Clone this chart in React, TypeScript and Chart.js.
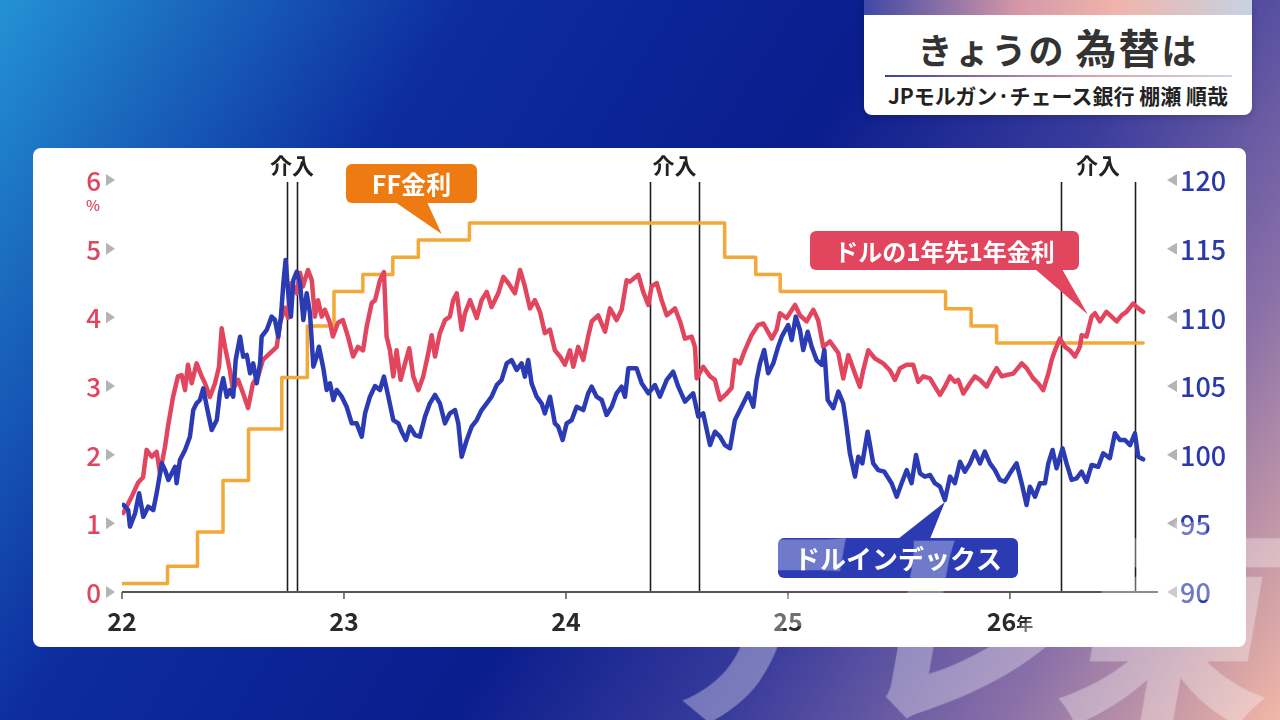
import { useEffect, useRef } from "react"
import { Chart, registerables } from "chart.js"

Chart.register(...registerables)

const FONT = "'Noto Sans CJK JP', 'Noto Sans', sans-serif"

const yearTicks = [2022, 2023, 2024, 2025, 2026]
const yearLabels = ["22", "23", "24", "25", "26"]
const rateTicks = [0, 1, 2, 3, 4, 5, 6]
const indexTicks = [90, 95, 100, 105, 110, 115, 120]

// FF rate (target range midpoint), change dates
const ffDates = [2022.0, 2022.205, 2022.34, 2022.455, 2022.57, 2022.72, 2022.835, 2022.955, 2023.085, 2023.22, 2023.335, 2023.565, 2024.715, 2024.855, 2024.965, 2025.71, 2025.825, 2025.94, 2026.6]
const ffValues = [0.125, 0.375, 0.875, 1.625, 2.375, 3.125, 3.875, 4.375, 4.625, 4.875, 5.125, 5.375, 4.875, 4.625, 4.375, 4.125, 3.875, 3.625, 3.625]

// dollar 1y1y forward rate (%)
const rateDates = [
	2022.006, 2022.044, 2022.072, 2022.095, 2022.111, 2022.134, 2022.156, 2022.171, 2022.194, 2022.207,
	2022.23, 2022.252, 2022.269, 2022.284, 2022.297, 2022.314, 2022.336, 2022.359, 2022.374, 2022.396,
	2022.419, 2022.437, 2022.449, 2022.464, 2022.486, 2022.5, 2022.523, 2022.545, 2022.568, 2022.59,
	2022.613, 2022.635, 2022.667, 2022.697, 2022.712, 2022.734, 2022.748, 2022.764, 2022.787, 2022.802,
	2022.815, 2022.838, 2022.855, 2022.869, 2022.883, 2022.9, 2022.914, 2022.937, 2022.95, 2022.973,
	2022.995, 2023.018, 2023.041, 2023.063, 2023.086, 2023.102, 2023.125, 2023.14, 2023.162, 2023.18,
	2023.192, 2023.207, 2023.222, 2023.237, 2023.255, 2023.275, 2023.294, 2023.312, 2023.335, 2023.357,
	2023.38, 2023.395, 2023.41, 2023.432, 2023.455, 2023.477, 2023.492, 2023.508, 2023.53, 2023.545,
	2023.568, 2023.598, 2023.62, 2023.643, 2023.665, 2023.695, 2023.718, 2023.74, 2023.77, 2023.793,
	2023.815, 2023.838, 2023.86, 2023.883, 2023.905, 2023.928, 2023.95, 2023.973, 2023.995, 2024.018,
	2024.033, 2024.055, 2024.078, 2024.1, 2024.116, 2024.145, 2024.176, 2024.198, 2024.228, 2024.251,
	2024.273, 2024.288, 2024.326, 2024.348, 2024.371, 2024.386, 2024.409, 2024.431, 2024.454, 2024.491,
	2024.514, 2024.536, 2024.566, 2024.581, 2024.589, 2024.618, 2024.649, 2024.671, 2024.694, 2024.724,
	2024.746, 2024.761, 2024.784, 2024.806, 2024.836, 2024.866, 2024.889, 2024.927, 2024.949, 2024.964,
	2024.994, 2025.032, 2025.054, 2025.084, 2025.114, 2025.136, 2025.159, 2025.189, 2025.227, 2025.249,
	2025.272, 2025.302, 2025.324, 2025.339, 2025.362, 2025.392, 2025.429, 2025.459, 2025.482, 2025.505,
	2025.535, 2025.564, 2025.587, 2025.609, 2025.64, 2025.662, 2025.685, 2025.707, 2025.73, 2025.752,
	2025.767, 2025.79, 2025.82, 2025.842, 2025.865, 2025.895, 2025.918, 2025.94, 2025.963, 2025.985,
	2026.015, 2026.053, 2026.075, 2026.105, 2026.127, 2026.15, 2026.173, 2026.188, 2026.203, 2026.225,
	2026.248, 2026.27, 2026.293, 2026.315, 2026.323, 2026.345, 2026.368, 2026.383, 2026.405, 2026.435,
	2026.458, 2026.481, 2026.503, 2026.525, 2026.555, 2026.578, 2026.6,
]
const rateValues = [
	1.15, 1.39, 1.59, 1.67, 2.07, 1.97, 2.04, 1.73, 2.12, 2.41,
	2.84, 3.14, 3.16, 2.94, 3.31, 3.04, 3.33, 3.14, 3.04, 2.84,
	3.04, 3.28, 3.84, 3.57, 3.23, 2.94, 3.09, 2.9, 2.68, 3.04,
	3.14, 3.38, 3.48, 3.57, 3.92, 4.14, 3.99, 4.5, 4.35, 4.65,
	4.45, 4.69, 4.54, 4.01, 4.25, 4.01, 4.11, 3.92, 3.72, 3.92,
	3.96, 3.72, 3.43, 3.57, 3.52, 3.86, 4.21, 4.25, 4.54, 4.66,
	3.72, 3.52, 3.14, 3.52, 3.09, 3.33, 3.55, 3.14, 2.94, 3.14,
	3.48, 3.74, 3.43, 3.77, 3.96, 4.01, 4.25, 4.35, 3.82, 4.06,
	4.25, 3.99, 4.25, 4.37, 4.15, 4.35, 4.59, 4.5, 4.35, 4.69,
	4.45, 4.13, 4.25, 4.08, 3.77, 3.82, 3.52, 3.43, 3.31, 3.52,
	3.28, 3.57, 3.38, 3.72, 3.94, 4.03, 3.79, 4.13, 3.96, 4.11,
	4.54, 4.52, 4.62, 4.37, 4.18, 4.45, 4.5, 4.25, 4.03, 4.13,
	3.94, 3.69, 3.72, 3.57, 3.11, 3.28, 3.14, 3.09, 2.8, 2.89,
	2.97, 3.38, 3.33, 3.52, 3.74, 3.89, 3.91, 3.69, 3.82, 4.06,
	3.99, 4.18, 4.03, 3.94, 4.11, 3.96, 3.57, 3.65, 3.48, 3.11,
	3.45, 3.18, 2.99, 3.23, 3.52, 3.4, 3.33, 3.23, 3.09, 3.26,
	3.31, 3.31, 3.06, 3.14, 3.11, 2.99, 2.87, 2.99, 3.14, 3.06,
	3.09, 2.89, 3.04, 3.14, 3.09, 2.99, 3.14, 3.26, 3.14, 3.16,
	3.18, 3.33, 3.26, 3.11, 3.04, 2.94, 3.18, 3.38, 3.52, 3.69,
	3.57, 3.52, 3.43, 3.57, 3.74, 3.72, 4.01, 4.06, 3.94, 4.08,
	4.01, 3.94, 4.03, 4.08, 4.2, 4.13, 4.08,
]

// dollar index
const dxyDates = [
	2022.006, 2022.028, 2022.036, 2022.059, 2022.077, 2022.096, 2022.118, 2022.141, 2022.156, 2022.179,
	2022.194, 2022.209, 2022.224, 2022.239, 2022.246, 2022.261, 2022.284, 2022.306, 2022.321, 2022.336,
	2022.351, 2022.366, 2022.382, 2022.404, 2022.427, 2022.441, 2022.456, 2022.472, 2022.486, 2022.501,
	2022.512, 2022.532, 2022.546, 2022.562, 2022.577, 2022.591, 2022.607, 2022.622, 2022.629, 2022.652,
	2022.674, 2022.689, 2022.704, 2022.716, 2022.727, 2022.737, 2022.749, 2022.761, 2022.772, 2022.787,
	2022.802, 2022.817, 2022.832, 2022.847, 2022.862, 2022.877, 2022.887, 2022.907, 2022.922, 2022.937,
	2022.952, 2022.967, 2022.99, 2023.012, 2023.035, 2023.057, 2023.08, 2023.095, 2023.117, 2023.14,
	2023.162, 2023.18, 2023.2, 2023.222, 2023.245, 2023.26, 2023.279, 2023.297, 2023.32, 2023.342,
	2023.365, 2023.387, 2023.41, 2023.432, 2023.455, 2023.477, 2023.5, 2023.515, 2023.53, 2023.553,
	2023.575, 2023.598, 2023.62, 2023.643, 2023.665, 2023.688, 2023.71, 2023.733, 2023.755, 2023.778,
	2023.8, 2023.815, 2023.83, 2023.845, 2023.868, 2023.89, 2023.905, 2023.928, 2023.95, 2023.965,
	2023.985, 2024.003, 2024.026, 2024.048, 2024.078, 2024.1, 2024.116, 2024.138, 2024.161, 2024.183,
	2024.206, 2024.228, 2024.251, 2024.266, 2024.281, 2024.318, 2024.341, 2024.371, 2024.401, 2024.423,
	2024.454, 2024.483, 2024.506, 2024.536, 2024.573, 2024.596, 2024.618, 2024.649, 2024.671, 2024.694,
	2024.716, 2024.739, 2024.761, 2024.791, 2024.821, 2024.844, 2024.859, 2024.874, 2024.893, 2024.911,
	2024.934, 2024.956, 2024.972, 2025.001, 2025.017, 2025.035, 2025.054, 2025.069, 2025.089, 2025.107,
	2025.129, 2025.152, 2025.164, 2025.179, 2025.204, 2025.227, 2025.249, 2025.264, 2025.279, 2025.302,
	2025.317, 2025.335, 2025.359, 2025.384, 2025.407, 2025.434, 2025.467, 2025.49, 2025.512, 2025.535,
	2025.557, 2025.577, 2025.595, 2025.617, 2025.64, 2025.662, 2025.685, 2025.707, 2025.73, 2025.752,
	2025.775, 2025.797, 2025.82, 2025.842, 2025.865, 2025.887, 2025.91, 2025.932, 2025.955, 2025.977,
	2026.0, 2026.03, 2026.053, 2026.075, 2026.09, 2026.113, 2026.135, 2026.158, 2026.173, 2026.192,
	2026.21, 2026.237, 2026.255, 2026.278, 2026.3, 2026.323, 2026.345, 2026.368, 2026.398, 2026.42,
	2026.45, 2026.473, 2026.495, 2026.518, 2026.541, 2026.563, 2026.578, 2026.6,
]
const dxyValues = [
	96.34, 95.97, 94.76, 95.73, 97.19, 95.48, 96.21, 95.97, 97.19, 99.37,
	98.88, 98.16, 98.64, 99.12, 97.92, 99.61, 100.34, 101.31, 103.25, 103.74,
	103.98, 104.83, 103.49, 101.8, 102.52, 104.47, 105.56, 104.22, 104.71, 104.22,
	106.89, 108.59, 107.13, 107.26, 105.93, 106.65, 105.2, 106.65, 108.59, 109.08,
	110.05, 109.81, 108.59, 110.05, 112.48, 114.18, 111.75, 110.05, 112.72, 113.32,
	112.48, 109.81, 111.75, 110.29, 106.41, 107.13, 107.86, 106.29, 104.71, 105.2,
	103.98, 104.71, 104.22, 103.49, 102.28, 102.28, 101.31, 103.01, 104.22, 105.0,
	104.71, 105.68, 104.22, 102.52, 102.28, 101.67, 101.07, 102.04, 101.43, 101.31,
	102.77, 103.74, 104.35, 103.74, 102.28, 103.01, 103.25, 102.28, 99.85, 101.07,
	102.04, 102.52, 103.25, 103.74, 104.22, 105.07, 105.44, 106.65, 106.89, 106.17,
	106.65, 105.68, 106.89, 105.2, 104.22, 103.74, 103.01, 104.22, 102.28, 102.04,
	101.07, 102.28, 102.52, 103.49, 103.25, 104.47, 104.95, 104.22, 103.98, 102.89,
	103.49, 104.47, 104.95, 104.22, 106.29, 106.29, 105.2, 104.47, 105.07, 104.22,
	105.44, 106.04, 104.95, 103.86, 104.47, 102.77, 103.01, 100.7, 101.67, 101.31,
	100.7, 100.46, 102.52, 103.49, 104.47, 103.49, 105.44, 106.65, 107.62, 105.93,
	106.65, 107.86, 108.59, 109.44, 108.35, 110.05, 109.08, 107.62, 108.95, 107.86,
	106.89, 106.53, 107.62, 103.98, 103.38, 104.59, 103.74, 102.04, 100.1, 98.4,
	99.85, 99.37, 101.67, 99.37, 98.88, 98.76, 97.92, 96.94, 97.92, 98.88,
	97.92, 99.98, 98.64, 98.4, 98.52, 97.92, 97.67, 96.7, 98.4, 97.92,
	99.49, 98.76, 99.37, 100.22, 99.37, 100.22, 99.37, 98.88, 98.16, 98.03,
	98.64, 99.37, 97.92, 96.34, 97.67, 96.94, 97.92, 97.92, 99.37, 100.34,
	99.01, 100.46, 99.37, 98.16, 98.28, 98.76, 98.03, 99.25, 99.12, 100.1,
	99.74, 101.56, 101.07, 101.07, 100.7, 101.56, 99.85, 99.66,
]

// intervention dates (pairs)
const interventionDates = [2022.743, 2022.788, 2024.378, 2024.599, 2026.23, 2026.563]

function callout(
	ctx: CanvasRenderingContext2D,
	box: number[],
	base: number[],
	tipX: number,
	tipY: number,
	fromTop: boolean,
	color: string,
	text: string,
	font: string
) {
	const [x, y, w, h] = box
	ctx.save()
	ctx.fillStyle = color
	ctx.beginPath()
	ctx.roundRect(x, y, w, h, 6)
	ctx.fill()
	const by = fromTop ? y + 1 : y + h - 1
	ctx.beginPath()
	ctx.moveTo(base[0], by)
	ctx.lineTo(base[1], by)
	ctx.lineTo(tipX, tipY)
	ctx.closePath()
	ctx.fill()
	ctx.fillStyle = "#ffffff"
	ctx.font = font
	ctx.textAlign = "center"
	ctx.textBaseline = "middle"
	ctx.fillText(text, x + w / 2, y + h / 2 + 1)
	ctx.restore()
}

const decorPlugin = {
	id: "decor",
	beforeDatasetsDraw(chart: any) {
		const { ctx, chartArea, scales } = chart
		const x = scales.x
		ctx.save()
		ctx.strokeStyle = "#1e1e1e"
		ctx.lineWidth = 1.6
		interventionDates.forEach((d) => {
			const px = Math.round(x.getPixelForValue(d)) + 0.5
			ctx.beginPath()
			ctx.moveTo(px, chartArea.top + 2)
			ctx.lineTo(px, chartArea.bottom)
			ctx.stroke()
		})
		ctx.fillStyle = "#222"
		ctx.font = `bold 22px ${FONT}`
		ctx.textAlign = "center"
		ctx.textBaseline = "middle"
		for (let i = 0; i < interventionDates.length; i += 2) {
			const mid = (x.getPixelForValue(interventionDates[i]) + x.getPixelForValue(interventionDates[i + 1])) / 2
			ctx.fillText("介入", mid, chartArea.top - 14)
		}
		ctx.restore()
	},
	afterDatasetsDraw(chart: any) {
		const { ctx, scales } = chart
		const x = scales.x
		callout(ctx, [313, 16, 131, 39], [362, 394], x.getPixelForValue(2023.44), scales.yL.getPixelForValue(5.125) - 6, false, "#ee7a12", "FF金利", `bold 25px ${FONT}`)
		callout(ctx, [777, 83, 269, 39], [1002, 1029], x.getPixelForValue(2026.351), scales.yL.getPixelForValue(4.04), false, "#e2465f", "ドルの1年先1年金利", `bold 24px ${FONT}`)
		callout(ctx, [745, 390, 240, 40], [865, 897], x.getPixelForValue(2025.707), scales.yR.getPixelForValue(96.7) + 2, true, "#2b3bb3", "ドルインデックス", `bold 26px ${FONT}`)
	},
	afterDraw(chart: any) {
		const { ctx, chartArea, scales } = chart
		const { left, right, bottom } = chartArea
		ctx.save()
		// x axis line and ticks
		ctx.strokeStyle = "#555"
		ctx.lineWidth = 2
		ctx.beginPath()
		ctx.moveTo(left, bottom)
		ctx.lineTo(right, bottom)
		ctx.stroke()
		ctx.lineWidth = 1.5
		yearTicks.forEach((t) => {
			const px = scales.x.getPixelForValue(t)
			ctx.beginPath()
			ctx.moveTo(px, bottom)
			ctx.lineTo(px, bottom + 7)
			ctx.stroke()
		})
		// x labels
		ctx.fillStyle = "#2a2a2a"
		ctx.textBaseline = "middle"
		yearTicks.forEach((t, i) => {
			const px = scales.x.getPixelForValue(t)
			const last = i === yearTicks.length - 1
			ctx.font = `bold 25px ${FONT}`
			const w1 = ctx.measureText(yearLabels[i]).width
			let w2 = 0
			if (last) {
				ctx.font = `bold 17px ${FONT}`
				w2 = ctx.measureText("年").width
			}
			const start = px - (w1 + w2) / 2
			ctx.textAlign = "left"
			ctx.font = `bold 25px ${FONT}`
			ctx.fillText(yearLabels[i], start, bottom + 29)
			if (last) {
				ctx.font = `bold 17px ${FONT}`
				ctx.fillText("年", start + w1, bottom + 32)
			}
		})
		// left axis labels
		rateTicks.forEach((v) => {
			const py = scales.yL.getPixelForValue(v)
			ctx.fillStyle = "#e0445f"
			ctx.font = `500 26px ${FONT}`
			ctx.textAlign = "right"
			ctx.fillText(String(v), left - 21, py + 1)
			ctx.fillStyle = "#b4b4b4"
			ctx.beginPath()
			ctx.moveTo(left - 16, py - 6)
			ctx.lineTo(left - 16, py + 6)
			ctx.lineTo(left - 7, py)
			ctx.closePath()
			ctx.fill()
		})
		ctx.fillStyle = "#e0445f"
		ctx.font = `500 15px ${FONT}`
		ctx.textAlign = "center"
		ctx.fillText("%", left - 29, scales.yL.getPixelForValue(6) + 25)
		// right axis labels
		indexTicks.forEach((v) => {
			const py = scales.yR.getPixelForValue(v)
			ctx.fillStyle = "#b4b4b4"
			ctx.beginPath()
			ctx.moveTo(right + 9, py)
			ctx.lineTo(right + 19, py - 6)
			ctx.lineTo(right + 19, py + 6)
			ctx.closePath()
			ctx.fill()
			ctx.fillStyle = "#2b3aa8"
			ctx.font = `500 27px ${FONT}`
			ctx.textAlign = "left"
			ctx.fillText(String(v), right + 22, py + 1)
		})
		ctx.restore()
	},
}

function FxChart() {
	const chartRef = useRef<HTMLCanvasElement>(null)
	const chartInstance = useRef<Chart | null>(null)

	useEffect(() => {
		if (!chartRef.current) return
		if (chartInstance.current) chartInstance.current.destroy()
		const ctx = chartRef.current.getContext("2d")
		if (!ctx) return

		chartInstance.current = new Chart(ctx, {
			type: "line",
			data: {
				datasets: [
					{
						label: "ドルインデックス",
						data: dxyDates.map((d, i) => ({ x: d, y: dxyValues[i] })),
						yAxisID: "yR",
						borderColor: "#2b3bb3",
						borderWidth: 4.5,
						order: 1,
					},
					{
						label: "ドルの1年先1年金利",
						data: rateDates.map((d, i) => ({ x: d, y: rateValues[i] })),
						yAxisID: "yL",
						borderColor: "#e2465f",
						borderWidth: 4.5,
						order: 2,
					},
					{
						label: "FF金利",
						data: ffDates.map((d, i) => ({ x: d, y: ffValues[i] })),
						yAxisID: "yL",
						borderColor: "#f3a838",
						borderWidth: 3.5,
						stepped: true,
						order: 3,
					},
				],
			},
			options: {
				responsive: false,
				animation: false,
				layout: { padding: { left: 89, right: 88, top: 32, bottom: 55 } },
				elements: {
					point: { radius: 0 },
					line: { tension: 0, borderJoinStyle: "round", borderCapStyle: "round", fill: false },
				},
				scales: {
					x: { type: "linear", min: 2022, max: 2026.667, display: false },
					yL: { type: "linear", position: "left", min: 0, max: 6, display: false },
					yR: { type: "linear", position: "right", min: 90, max: 120, display: false },
				},
				plugins: {
					legend: { display: false },
					tooltip: { enabled: false },
				},
			},
			plugins: [decorPlugin],
		})

		return () => {
			if (chartInstance.current) {
				chartInstance.current.destroy()
				chartInstance.current = null
			}
		}
	}, [])

	return <canvas ref={chartRef} width={1213} height={499} style={{ width: 1213, height: 499, display: "block" }}></canvas>
}

export default function App() {
	return (
		<div
			style={{
				position: "fixed",
				left: 0,
				top: 0,
				width: 1280,
				height: 720,
				overflow: "hidden",
				fontFamily: FONT,
				background: "linear-gradient(122deg, #2392d4 0%, #0d2c9e 27%, #0a1d8d 52%, #3a3c9c 68%, #8a70a8 84%, #f2b7a6 100%)",
			}}
		>
			{/* title box */}
			<div
				style={{
					position: "absolute",
					left: 864,
					top: 0,
					width: 388,
					height: 115,
					background: "#fff",
					borderRadius: "0 0 8px 8px",
					overflow: "hidden",
					boxShadow: "0 2px 6px rgba(0,0,0,0.2)",
				}}
			>
				<div style={{ height: 15, background: "linear-gradient(90deg, #3f48a6 0%, #d698a8 40%, #f0b4ab 65%, #c6d2e2 100%)" }} />
				<div style={{ position: "absolute", top: 22, left: 0, width: "100%", textAlign: "center", fontSize: 35, fontWeight: 700, color: "#333", lineHeight: "48px", letterSpacing: 2 }}>
					きょうの <span style={{ fontSize: 41 }}>為替</span>は
				</div>
				<div style={{ position: "absolute", left: 21, right: 20, top: 75, height: 2, background: "linear-gradient(90deg, #3a40a0 0%, #e6a0a8 60%, #cdd5e3 100%)" }} />
				<div style={{ position: "absolute", top: 80, left: 0, width: "100%", textAlign: "center", fontSize: 21, fontWeight: 700, color: "#222", lineHeight: "30px" }}>
					JPモルガン·チェース銀行 棚瀬 順哉
				</div>
			</div>
			{/* chart panel */}
			<div style={{ position: "absolute", left: 33, top: 148, width: 1213, height: 499, background: "#fff", borderRadius: 8, overflow: "hidden" }}>
				<FxChart />
			</div>
			{/* watermark */}
			<div
				style={{
					position: "absolute",
					left: 655,
					top: 505,
					fontSize: 215,
					fontWeight: 900,
					lineHeight: 1,
					color: "rgba(255,255,255,0.32)",
					transform: "skewX(-10deg)",
					letterSpacing: -8,
					whiteSpace: "nowrap",
					pointerEvents: "none",
				}}
			>
				テレ東
			</div>
		</div>
	)
}
